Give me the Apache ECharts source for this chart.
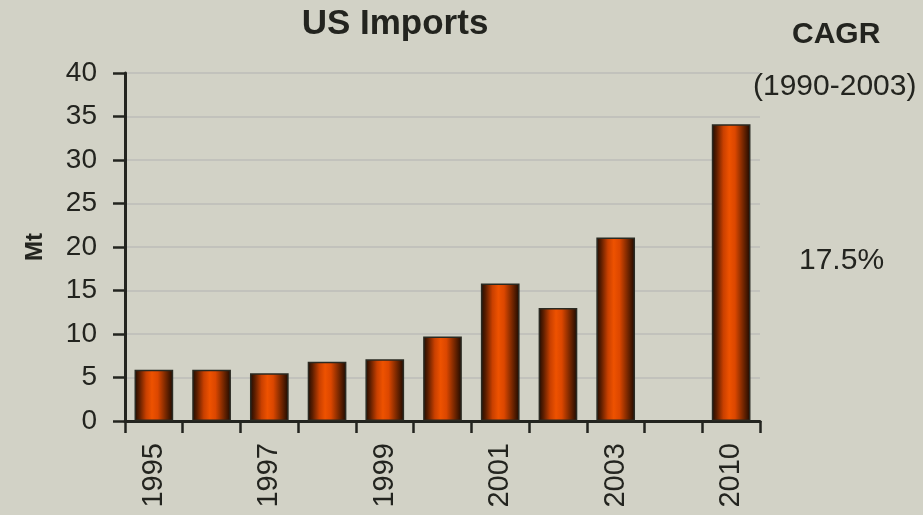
<!DOCTYPE html>
<html>
<head>
<meta charset="utf-8">
<script src="https://cdn.jsdelivr.net/npm/echarts@6/dist/echarts.min.js"></script>
<style>
  html, body { margin: 0; padding: 0; background: #d2d2c6; }
  #chart { width: 923px; height: 515px; }
</style>
</head>
<body>
<div id="chart"></div>
<script>
// US imports by year, million tonnes; the slot before 2010 is left empty
const years = ['1995', '1996', '1997', '1998', '1999', '2000', '2001', '2002', '2003', '', '2010'];
const imports = [5.9, 5.9, 5.5, 6.8, 7.1, 9.7, 15.8, 13.0, 21.1, null, 34.1];
const yTicks = { min: 0, max: 40, step: 5 };
const cagrHeading = 'CAGR';
const cagrPeriod = '(1990-2003)';
const cagrValue = '17.5%';

const FONT = '"Liberation Sans Narrow", "Arial Narrow", "Liberation Sans", Arial, sans-serif';
const INK = '#23241f';

const chart = echarts.init(document.getElementById('chart'), null, { renderer: 'canvas' });

// horizontal shading across each bar: dark rims, bright orange core
const barFill = new echarts.graphic.LinearGradient(0, 0, 1, 0, [
  { offset: 0.00, color: '#1c0b02' },
  { offset: 0.12, color: '#5a1d00' },
  { offset: 0.30, color: '#c94000' },
  { offset: 0.45, color: '#ee5200' },
  { offset: 0.60, color: '#dc4700' },
  { offset: 0.80, color: '#7a2800' },
  { offset: 1.00, color: '#1a0900' }
]);

chart.setOption({
  backgroundColor: '#d2d2c6',
  animation: false,
  title: {
    text: 'US Imports',
    left: 390,
    top: 2,
    textAlign: 'center',
    textStyle: { fontFamily: FONT, fontSize: 35, fontWeight: 'bold', color: INK }
  },
  graphic: [
    { type: 'text', left: 792, top: 20, style: { text: cagrHeading, font: 'bold 30px ' + FONT, fill: INK } },
    { type: 'text', left: 753, top: 72, style: { text: cagrPeriod, font: '30px ' + FONT, fill: INK } },
    { type: 'text', left: 799, top: 246, style: { text: cagrValue, font: '30px ' + FONT, fill: INK } }
  ],
  grid: { left: 125, right: 163, top: 73, bottom: 94, containLabel: false },
  xAxis: {
    type: 'category',
    data: years,
    axisLine: { lineStyle: { color: INK, width: 3 } },
    axisTick: { show: true, interval: 0, length: 12, lineStyle: { color: INK, width: 2.5 } },
    axisLabel: {
      interval: 1,
      rotate: 90,
      margin: 22,
      fontFamily: FONT,
      fontSize: 29,
      color: INK
    }
  },
  yAxis: {
    type: 'value',
    min: yTicks.min,
    max: yTicks.max,
    interval: yTicks.step,
    name: 'Mt',
    nameLocation: 'middle',
    nameGap: 78,
    nameRotate: 90,
    nameTextStyle: { fontFamily: FONT, fontSize: 24, fontWeight: 'bold', color: INK },
    axisLine: { show: true, lineStyle: { color: INK, width: 3 } },
    axisTick: { show: true, length: 12, lineStyle: { color: INK, width: 2.5 } },
    axisLabel: { margin: 28, fontFamily: FONT, fontSize: 28, color: INK },
    splitLine: { show: true, lineStyle: { color: '#bdbdb8', width: 1.5 } }
  },
  series: [{
    type: 'bar',
    data: imports,
    barCategoryGap: '33%',
    itemStyle: { color: barFill, borderColor: '#2a2a22', borderWidth: 1.5 }
  }]
});
</script>
</body>
</html>
